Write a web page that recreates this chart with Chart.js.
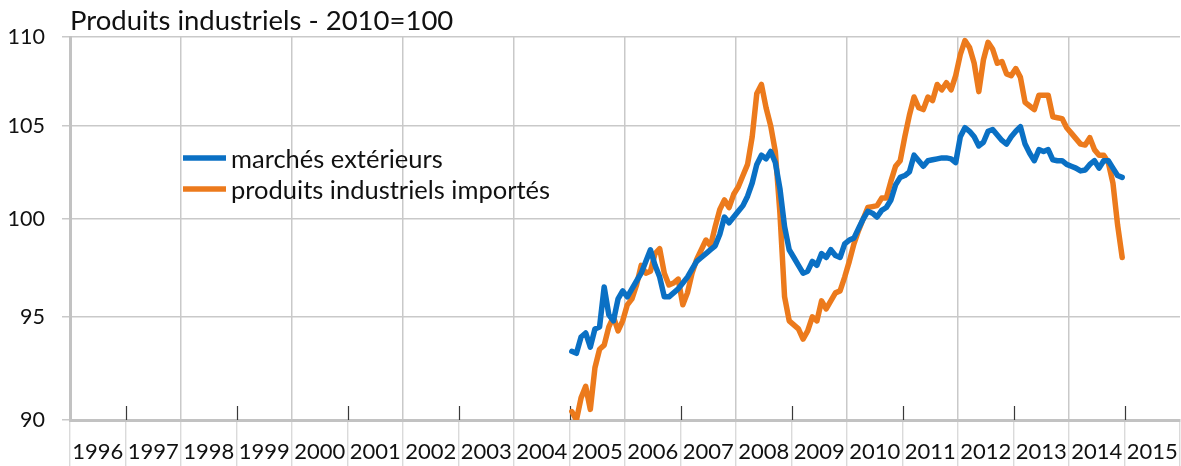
<!DOCTYPE html>
<html>
<head>
<meta charset="utf-8">
<script src="https://cdn.jsdelivr.net/npm/chart.js@4.4.1/dist/chart.umd.min.js"></script>
<style>
  body { margin: 0; background: #fff; }
  #wrap { width: 1181px; height: 466px; }
</style>
</head>
<body>
<div id="wrap"><canvas id="myChart" width="1181" height="466"></canvas></div>
<script>
// year categories shown on the x axis
var years = ['1996', '1997', '1998', '1999', '2000', '2001', '2002', '2003', '2004', '2005',
             '2006', '2007', '2008', '2009', '2010', '2011', '2012', '2013', '2014', '2015'];
var yTicks = [90, 95, 100, 105, 110];

// monthly series, Jan 2005 -> Dec 2014
var exportPrices = [
    93.3, 93.2, 94.0, 94.2, 93.5, 94.4, 94.5, 96.5, 95.1, 94.8, 95.9, 96.3,
    96.0, 96.4, 96.8, 97.2, 97.8, 98.4, 97.6, 97.0, 96.0, 96.0, 96.2, 96.4,
    96.7, 97.0, 97.4, 97.8, 98.0, 98.2, 98.4, 98.6, 99.2, 100.1, 99.8, 100.1,
    100.4, 100.7, 101.2, 101.9, 102.9, 103.4, 103.2, 103.6, 103.0, 101.6, 99.6, 98.4,
    98.0, 97.6, 97.2, 97.3, 97.8, 97.6, 98.2, 98.0, 98.4, 98.1, 98.0, 98.7,
    98.9, 99.0, 99.5, 100.0, 100.4, 100.3, 100.1, 100.45, 100.6, 101.0, 101.8, 102.2,
    102.3, 102.5, 103.4, 103.1, 102.8, 103.1, 103.15, 103.2, 103.25, 103.25, 103.2, 103.0,
    104.4, 104.9, 104.7, 104.4, 103.9, 104.1, 104.7, 104.8, 104.5, 104.2, 104.0, 104.4,
    104.7, 104.95, 104.0, 103.5, 103.1, 103.7, 103.6, 103.7, 103.15, 103.1, 103.1, 102.9,
    102.8, 102.7, 102.55, 102.6, 102.9, 103.1, 102.7, 103.1, 103.1, 102.7, 102.3, 102.2
];
var importPrices = [
    90.4, 90.0, 91.05, 91.6, 90.5, 92.5, 93.4, 93.6, 94.5, 95.0, 94.3, 94.8,
    95.6, 95.9, 96.6, 97.6, 97.2, 97.3, 98.2, 98.45, 97.2, 96.6, 96.7, 96.9,
    95.6, 96.2, 97.2, 97.9, 98.4, 98.9, 98.6, 99.6, 100.5, 101.0, 100.6, 101.3,
    101.7, 102.3, 102.9, 104.4, 106.8, 107.3, 106.0, 105.0, 103.6, 100.3, 96.0, 94.8,
    94.6, 94.4, 93.9, 94.3, 95.0, 94.8, 95.8, 95.4, 95.8, 96.2, 96.3, 97.0,
    97.8, 98.7, 99.4, 100.0, 100.6, 100.65, 100.7, 101.1, 101.1, 102.0, 102.8, 103.1,
    104.4, 105.6, 106.6, 106.0, 105.9, 106.6, 106.4, 107.3, 107.0, 107.4, 107.0, 107.8,
    109.0, 109.8, 109.4, 108.5, 106.9, 108.7, 109.7, 109.3, 108.5, 108.6, 107.9, 107.8,
    108.2, 107.7, 106.3, 106.1, 105.9, 106.7, 106.7, 106.7, 105.5, 105.45, 105.4, 104.9,
    104.6, 104.3, 104.0, 103.95, 104.35, 103.7, 103.4, 103.4, 103.0, 101.9, 99.7, 98.0
];

// month labels for the series
var months = [];
for (var i = 0; i < exportPrices.length; i++) {
    var yr = 2005 + Math.floor(i / 12);
    var mo = (i % 12) + 1;
    months.push(yr + '-' + (mo < 10 ? '0' + mo : mo));
}

// position of a month on the hidden linear axis (months since Jan 1996, mid-month)
function monthPos(label) {
    var parts = label.split('-');
    return (Number(parts[0]) - 1996) * 12 + (Number(parts[1]) - 1) + 0.5;
}

function toPoints(values) {
    return values.map(function(v, i) { return { x: monthPos(months[i]), y: v }; });
}

var blue = '#0a70c4';
var orange = '#ec7a1c';
var gridGrey = '#c9c9c9';
var axisGrey = '#c2c2c2';

// short dark tick marks inside the plot at odd year boundaries
var innerTicks = {
    id: 'innerTicks',
    beforeDatasetsDraw: function(chart) {
        var ctx = chart.ctx;
        var xs = chart.scales.x;
        var bottom = chart.chartArea.bottom;
        ctx.save();
        ctx.strokeStyle = '#3a3a3a';
        ctx.lineWidth = 1.2;
        for (var k = 1; k < years.length; k += 2) {
            var px = Math.round(xs.getPixelForValue(k * 12)) + 0.5;
            ctx.beginPath();
            ctx.moveTo(px, bottom - 14);
            ctx.lineTo(px, bottom);
            ctx.stroke();
        }
        ctx.restore();
    }
};

// legend drawn inside the plot area
var insideLegend = {
    id: 'insideLegend',
    afterDatasetsDraw: function(chart) {
        var ctx = chart.ctx;
        ctx.save();
        ctx.font = '25.5px Lato';
        ctx.textBaseline = 'middle';
        ctx.fillStyle = '#111';
        chart.data.datasets.forEach(function(ds, idx) {
            var y = 158 + idx * 31;
            ctx.strokeStyle = ds.borderColor;
            ctx.lineWidth = 5.5;
            ctx.lineCap = 'butt';
            ctx.beginPath();
            ctx.moveTo(183, y);
            ctx.lineTo(226, y);
            ctx.stroke();
            ctx.fillText(ds.label, 231, y + 2);
        });
        ctx.restore();
    }
};

var ctx = document.getElementById('myChart').getContext('2d');
var myChart = new Chart(ctx, {
    type: 'line',
    data: {
        datasets: [{
            label: 'marchés extérieurs',
            data: toPoints(exportPrices),
            borderColor: blue,
            borderWidth: 5.5,
            pointRadius: 0,
            tension: 0,
            borderCapStyle: 'round',
            borderJoinStyle: 'round',
            xAxisID: 'x',
            yAxisID: 'y'
        }, {
            label: 'produits industriels importés',
            data: toPoints(importPrices),
            borderColor: orange,
            borderWidth: 5.5,
            pointRadius: 0,
            tension: 0,
            borderCapStyle: 'round',
            borderJoinStyle: 'round',
            xAxisID: 'x',
            yAxisID: 'y'
        }]
    },
    options: {
        responsive: false,
        animation: false,
        devicePixelRatio: 1,
        layout: { padding: { left: 0, right: 1, top: 0, bottom: 0 } },
        plugins: {
            legend: { display: false },
            tooltip: { enabled: false },
            title: {
                display: true,
                text: 'Produits industriels - 2010=100',
                align: 'start',
                fullSize: false,
                color: '#111',
                font: { family: 'Lato', size: 27.5, weight: 'normal', lineHeight: 1.13 },
                padding: { top: 6, bottom: 0 }
            }
        },
        scales: {
            x: {
                type: 'linear',
                display: false,
                min: 0,
                max: years.length * 12
            },
            years: {
                type: 'category',
                position: 'bottom',
                labels: years,
                offset: true,
                afterFit: function(scale) { scale.height = 46; },
                grid: {
                    offset: true,
                    drawOnChartArea: true,
                    color: function(c) { return c.index % 2 === 0 ? gridGrey : 'rgba(0,0,0,0)'; },
                    lineWidth: 1.5,
                    tickLength: 46,
                    tickColor: '#d4d4d4',
                    tickWidth: 1.2
                },
                border: { display: true, color: axisGrey, width: 3 },
                ticks: {
                    autoSkip: false,
                    maxRotation: 0,
                    minRotation: 0,
                    padding: -27,
                    color: '#111',
                    font: { family: 'Lato', size: 22 }
                }
            },
            y: {
                type: 'logarithmic',
                position: 'left',
                min: 90,
                max: 110,
                afterFit: function(scale) { scale.width = 70; },
                afterBuildTicks: function(scale) {
                    scale.ticks = yTicks.map(function(v) { return { value: v }; });
                },
                grid: {
                    color: gridGrey,
                    lineWidth: 1.5,
                    tickLength: 8,
                    tickColor: gridGrey
                },
                border: { display: true, color: axisGrey, width: 3 },
                ticks: {
                    padding: 17,
                    color: '#111',
                    font: { family: 'Lato', size: 21.5 },
                    callback: function(v) { return String(v); }
                }
            }
        }
    },
    plugins: [innerTicks, insideLegend]
});
</script>
</body>
</html>
